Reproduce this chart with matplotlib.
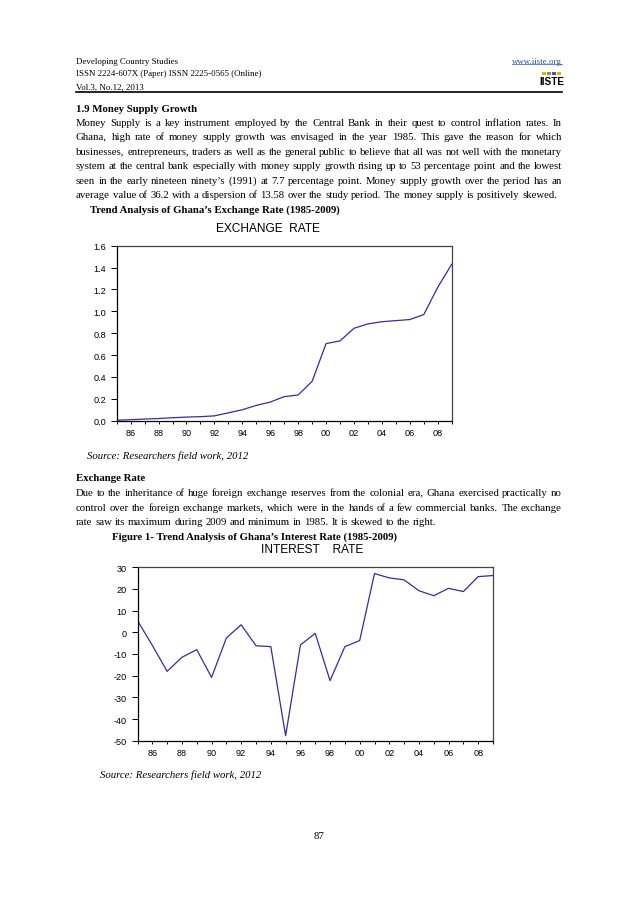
import math
import matplotlib
matplotlib.use("Agg")
import matplotlib.pyplot as plt
from matplotlib.patches import Rectangle
from matplotlib.lines import Line2D
from matplotlib.font_manager import FontProperties

# ---------------- data ----------------
years = list(range(1985, 2010))
exchange_rate = [0.005, 0.009, 0.015, 0.020, 0.027, 0.033, 0.037, 0.044, 0.072, 0.100,
                 0.140, 0.170, 0.220, 0.235, 0.360, 0.705, 0.730, 0.845, 0.885, 0.905,
                 0.915, 0.925, 0.970, 1.220, 1.430]
interest_rate = [5.4, -6.0, -18.0, -11.5, -8.0, -20.8, -2.6, 3.5, -6.2, -6.6,
                 -47.7, -5.8, -0.5, -22.3, -6.6, -3.8, 27.1, 25.1, 24.2, 19.2,
                 16.9, 20.3, 18.8, 25.7, 26.2]
xtick_years = list(range(1985, 2010))
xtick_labels = ["" if y % 2 else "%02d" % (y % 100) for y in xtick_years]
exchange_yticks = [0.0, 0.2, 0.4, 0.6, 0.8, 1.0, 1.2, 1.4, 1.6]
interest_yticks = [-50, -40, -30, -20, -10, 0, 10, 20, 30]

W, H = 638, 903
fig = plt.figure(figsize=(W / 100, H / 100), dpi=100)
fig.patch.set_facecolor("white")
renderer = fig.canvas.get_renderer()

SERIF = "Liberation Serif"
SANS = "Liberation Sans"
LEFT, RIGHT = 76, 562
BASE = 3.5  # offset from visual centre to baseline (px)


def fx(px):
    return px / W


def fy(py):
    return 1 - py / H


def width_of(s, **kw):
    t = fig.text(0, 0, s, **kw)
    w = t.get_window_extent(renderer).width
    t.remove()
    return w


p1 = [
    "Money Supply is a key instrument employed by the Central Bank in their quest to control inflation rates. In",
    "Ghana, high rate of money supply growth was envisaged in the year 1985. This gave the reason for which",
    "businesses, entrepreneurs, traders as well as the general public to believe that all was not well with the monetary",
    "system at the central bank especially with money supply growth rising up to 53 percentage point and the lowest",
    "seen in the early nineteen ninety\u2019s (1991) at 7.7 percentage point. Money supply growth over the period has an",
    "average value of 36.2 with a dispersion of 13.58 over the study period. The money supply is positively skewed.",
]
p2 = [
    "Due to the inheritance of huge foreign exchange reserves from the colonial era, Ghana exercised practically no",
    "control over the foreign exchange markets, which were in the hands of a few commercial banks. The exchange",
    "rate saw its maximum during 2009 and minimum in 1985. It is skewed to the right.",
]

widest = max(width_of(s, family=SERIF, fontsize=10) for s in p1[:-1] + p2[:-1])
BODY = 10 * (RIGHT - LEFT - 1) / widest


def txt(x, y, s, **kw):
    kw.setdefault("family", SERIF)
    kw.setdefault("fontsize", BODY)
    return fig.text(fx(x), fy(y + BASE), s, va="baseline", **kw)


def snapped_baseline(word, fp, base):
    """Pick an integer baseline so the Agg bitmap lands on the common baseline."""
    _, h, d = renderer.get_text_width_height_descent(word, fp, ismath=False)
    for cand in (base, base - 1, base + 1, base - 2, base + 2):
        if round(cand + d) - math.floor(h) + math.floor(h - d) == base:
            return cand
    return base


def para_line(s, y, justify=True, x0=LEFT, x1=RIGHT, **kw):
    kw.setdefault("family", SERIF)
    kw.setdefault("fontsize", BODY)
    fp = FontProperties(family=kw["family"], size=kw["fontsize"],
                        weight=kw.get("weight", "normal"), style=kw.get("style", "normal"))
    words = s.split(" ")
    texts = [fig.text(0, 0, w_, va="baseline", **kw) for w_ in words]
    widths = [t.get_window_extent(renderer).width for t in texts]
    if justify and len(words) > 1:
        gap = (x1 - x0 - sum(widths)) / (len(words) - 1)
    else:
        gap = width_of("x x", **kw) - width_of("xx", **kw)
    base = int(round(y + BASE))
    x = x0
    for t, w_, word in zip(texts, widths, words):
        b = snapped_baseline(word, fp, base)
        t.set_position((fx(x), fy(b)))
        x += w_ + gap


# ---------------- header ----------------
HS = 6.4
txt(LEFT, 60, "Developing Country Studies", fontsize=HS)
txt(LEFT, 73, "ISSN 2224-607X (Paper) ISSN 2225-0565 (Online)", fontsize=HS)
txt(LEFT, 86, "Vol.3, No.12, 2013", fontsize=HS)
txt(RIGHT, 60, "www.iiste.org", fontsize=HS, ha="right", color="#2a4fa8")
uw = width_of("www.iiste.org", family=SERIF, fontsize=HS)
fig.add_artist(Line2D([fx(RIGHT - uw), fx(RIGHT)], [fy(64.8), fy(64.8)], color="#2a4fa8", lw=0.5))
for i, c in enumerate(["#d8b800", "#7aa020", "#3a5fb0", "#d8b800"]):
    fig.add_artist(Rectangle((fx(542 + i * 5), fy(76)), 4 / W, 3 / H, color=c, lw=0))
txt(551.5, 81.5, "IISTE", fontsize=7.2, family=SANS, weight="bold", ha="center")
fig.add_artist(Line2D([fx(LEFT), fx(RIGHT)], [fy(93), fy(93)], color="black", lw=1.2))

# ---------------- section 1.9 ----------------
LS = 14.4
txt(LEFT, 108, "1.9 Money Supply Growth", weight="bold")
for i, line in enumerate(p1):
    para_line(line, 122.5 + i * LS, justify=(i < len(p1) - 1))
txt(90.5, 122.5 + len(p1) * LS, "Trend Analysis of Ghana\u2019s Exchange Rate (1985-2009)", weight="bold")

# ---------------- charts ----------------
LINE_C = "#2f2f9f"


def style_axes(ax):
    for side in ["left", "bottom"]:
        ax.spines[side].set_color("black")
        ax.spines[side].set_linewidth(0.9)
    for side in ["top", "right"]:
        ax.spines[side].set_color("#444444")
        ax.spines[side].set_linewidth(0.9)
    ax.tick_params(axis="y", direction="out", length=4.5, width=0.7, pad=3,
                   labelsize=6.6, right=False)
    ax.tick_params(axis="x", direction="out", length=2.5, width=0.7, pad=3,
                   labelsize=6.6, top=False)
    for lab in ax.get_xticklabels() + ax.get_yticklabels():
        lab.set_family(SANS)


ax1 = fig.add_axes([fx(116.7), fy(421.7), 335 / W, 175 / H])
ax1.plot(years, exchange_rate, color=LINE_C, lw=0.9)
ax1.set_xlim(1985, 2009)
ax1.set_ylim(0, 1.6)
ax1.set_yticks(exchange_yticks)
ax1.set_yticklabels(["%.1f" % v for v in exchange_yticks])
ax1.set_xticks(xtick_years)
ax1.set_xticklabels(xtick_labels)
style_axes(ax1)
fig.text(fx(268), fy(229), "EXCHANGE  RATE", family=SANS, fontsize=8.6, ha="center", va="center")

txt(86.7, 456, "Source: Researchers field work, 2012", style="italic")

txt(LEFT, 478, "Exchange Rate", weight="bold")
for i, line in enumerate(p2):
    para_line(line, 493 + i * LS, justify=(i < len(p2) - 1))
txt(111.5, 493 + len(p2) * LS, "Figure 1- Trend Analysis of Ghana\u2019s Interest Rate (1985-2009)", weight="bold")

ax2 = fig.add_axes([fx(137.5), fy(741.7), 355.5 / W, 173.4 / H])
ax2.plot(years, interest_rate, color=LINE_C, lw=0.9)
ax2.set_xlim(1985, 2009)
ax2.set_ylim(-50, 30)
ax2.set_yticks(interest_yticks)
ax2.set_yticklabels([str(v) for v in interest_yticks])
ax2.set_xticks(xtick_years)
ax2.set_xticklabels(xtick_labels)
style_axes(ax2)
fig.text(fx(312), fy(550), "INTEREST    RATE", family=SANS, fontsize=8.6, ha="center", va="center")

txt(100, 775, "Source: Researchers field work, 2012", style="italic")
txt(319, 836, "87", ha="center")

fig.savefig("out.png", dpi=100, facecolor="white")
